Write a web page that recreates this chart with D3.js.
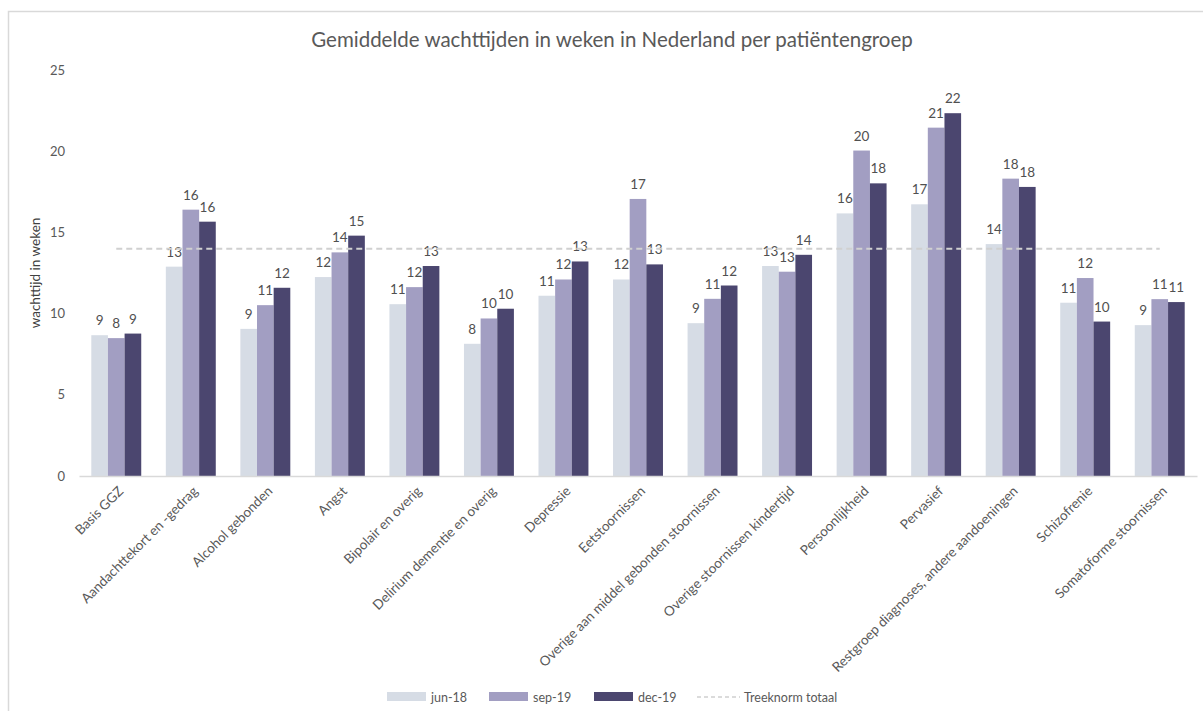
<!DOCTYPE html>
<html>
<head>
<meta charset="utf-8">
<script src="https://cdn.jsdelivr.net/npm/d3@7"></script>
<style>
  body { margin: 0; background: #fff; }
  text { font-family: Lato, "Open Sans", sans-serif; }
</style>
</head>
<body>
<div class="container"></div>
<script>
// categories and series
var categories = ['Basis GGZ', 'Aandachttekort en -gedrag', 'Alcohol gebonden', 'Angst',
  'Bipolair en overig', 'Delirium dementie en overig', 'Depressie', 'Eetstoornissen',
  'Overige aan middel gebonden stoornissen', 'Overige stoornissen kindertijd',
  'Persoonlijkheid', 'Pervasief', 'Restgroep diagnoses, andere aandoeningen',
  'Schizofrenie', 'Somatoforme stoornissen'];
var seriesNames = ['jun-18', 'sep-19', 'dec-19'];
var jun18 = [8.67, 12.89, 9.06, 12.25, 10.58, 8.14, 11.1, 12.1, 9.41, 12.93, 16.17, 16.73, 14.28, 10.67, 9.29];
var sep19 = [8.49, 16.4, 10.52, 13.77, 11.63, 9.7, 12.1, 17.06, 10.91, 12.58, 20.04, 21.45, 18.31, 12.19, 10.89];
var dec19 = [8.77, 15.66, 11.59, 14.8, 12.93, 10.3, 13.21, 13.03, 11.73, 13.62, 18.02, 22.34, 17.8, 9.51, 10.71];
var treeknorm = 14;
var yTicks = [0, 5, 10, 15, 20, 25];

var colors = ['#d6dce5', '#a29ec2', '#4b466f'];

var width = 1203, height = 711;
var margin = {top: 70, right: 6, bottom: 235, left: 79};
var innerW = width - margin.left - margin.right;
var innerH = height - margin.top - margin.bottom;

var svg = d3.select('.container').append('svg')
  .attr('width', width).attr('height', height);

// chart border
svg.append('rect')
  .attr('x', 8.5).attr('y', 11.5)
  .attr('width', width + 20).attr('height', height + 20)
  .attr('fill', 'none').attr('stroke', '#d9d9d9').attr('stroke-width', 1.5);

svg.append('text')
  .attr('x', 612).attr('y', 47)
  .attr('text-anchor', 'middle')
  .attr('font-size', 20.5)
  .attr('fill', '#595959')
  .text('Gemiddelde wachttijden in weken in Nederland per patiëntengroep');

var canvas = svg.append('g')
  .attr('transform', 'translate(' + margin.left + ',' + margin.top + ')');

var yScale = d3.scaleLinear().domain([0, 25]).range([innerH, 0]);
var xScale = d3.scaleBand().domain(categories).range([0, innerW]).paddingInner(0.33).paddingOuter(0.165);
var xSub = d3.scaleBand().domain(seriesNames).range([0, xScale.bandwidth()]);

// y axis (labels only)
var yAxis = canvas.append('g')
  .call(d3.axisLeft(yScale).tickValues(yTicks).tickSize(0).tickPadding(14));
yAxis.select('.domain').remove();
yAxis.selectAll('text').attr('font-size', 13).attr('fill', '#595959')
  .style('font-family', 'Lato, "Open Sans", sans-serif');

svg.append('text')
  .attr('transform', 'translate(40,' + (margin.top + innerH / 2) + ') rotate(-90)')
  .attr('text-anchor', 'middle')
  .attr('font-size', 13.5)
  .attr('fill', '#404040')
  .text('wachttijd in weken');

// bars
var data = categories.map(function(c, i) {
  return {cat: c, values: [jun18[i], sep19[i], dec19[i]]};
});

var groups = canvas.selectAll('.group').data(data).enter().append('g')
  .attr('transform', function(d) { return 'translate(' + xScale(d.cat) + ',0)'; });

groups.selectAll('rect').data(function(d) {
  return d.values.map(function(v, j) { return {s: seriesNames[j], v: v, j: j}; });
}).enter().append('rect')
  .attr('x', function(d) { return xSub(d.s); })
  .attr('y', function(d) { return yScale(d.v); })
  .attr('width', xSub.bandwidth())
  .attr('height', function(d) { return innerH - yScale(d.v); })
  .attr('fill', function(d) { return colors[d.j]; });

groups.selectAll('.lbl').data(function(d) {
  return d.values.map(function(v, j) { return {s: seriesNames[j], v: v}; });
}).enter().append('text')
  .attr('x', function(d) { return xSub(d.s) + xSub.bandwidth() / 2; })
  .attr('y', function(d) { return yScale(d.v) - 10; })
  .attr('text-anchor', 'middle')
  .attr('font-size', 13.5)
  .attr('fill', '#505050')
  .text(function(d) { return Math.round(d.v); });

// x axis
var xAxis = canvas.append('g')
  .attr('transform', 'translate(0,' + innerH + ')')
  .call(d3.axisBottom(xScale).tickSize(0).tickPadding(0));
xAxis.select('.domain').attr('stroke', '#d9d9d9').attr('stroke-width', 1.5);
xAxis.selectAll('text')
  .attr('font-size', 13.5).attr('fill', '#595959')
  .style('font-family', 'Lato, "Open Sans", sans-serif')
  .attr('text-anchor', 'end')
  .attr('dy', null)
  .attr('y', 0)
  .attr('transform', 'translate(8,16) rotate(-45)');

// Treeknorm line (center of first to center of last category)
var line = d3.line()
  .x(function(d) { return xScale(d) + xScale.bandwidth() / 2; })
  .y(function() { return yScale(treeknorm); });
canvas.append('path')
  .datum(categories)
  .attr('d', line)
  .attr('fill', 'none')
  .attr('stroke', '#d0d0d0')
  .attr('stroke-width', 2)
  .attr('stroke-dasharray', '6,4');

// legend
var legend = svg.append('g').attr('transform', 'translate(0,697)');
var legendX = [387, 489, 594];
seriesNames.forEach(function(s, j) {
  legend.append('rect').attr('x', legendX[j]).attr('y', -5)
    .attr('width', 39).attr('height', 9).attr('fill', colors[j]);
  legend.append('text').attr('x', legendX[j] + 44).attr('y', 5)
    .attr('font-size', 12.5).attr('fill', '#595959').text(s);
});
legend.append('line').attr('x1', 697).attr('x2', 740).attr('y1', 0).attr('y2', 0)
  .attr('stroke', '#d0d0d0').attr('stroke-width', 1.5).attr('stroke-dasharray', '4,3');
legend.append('text').attr('x', 744).attr('y', 5)
  .attr('font-size', 12.5).attr('fill', '#595959').text('Treeknorm totaal');
</script>
</body>
</html>
